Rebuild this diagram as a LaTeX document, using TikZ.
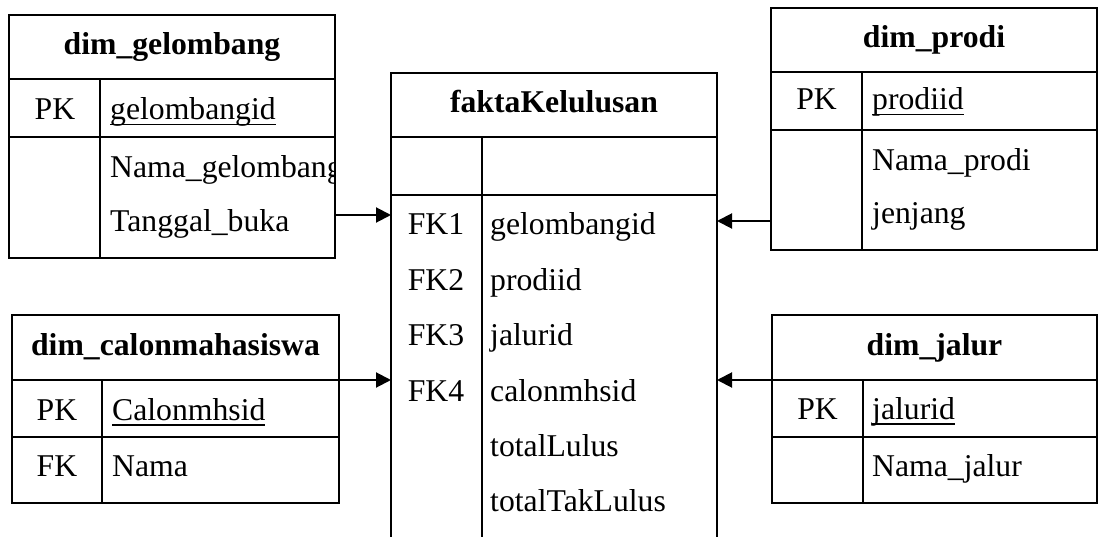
\documentclass[tikz,border=0pt]{standalone}
\usepackage{fontspec}
\setmainfont{Liberation Serif}
\usetikzlibrary{arrows.meta}
\newcommand{\keyul}[1]{\setbox0=\hbox{#1}\rlap{\rule[-5.5pt]{\wd0}{1.6pt}}\box0}

\begin{document}
\begin{tikzpicture}[x=1pt,y=-1pt,
    font=\fontsize{31.7}{38}\selectfont,
    cell/.style={draw,line width=2pt,inner sep=0pt,outer sep=0pt,anchor=north west},
    hdr/.style={cell,font=\fontsize{31.7}{38}\selectfont\bfseries,text height=22pt,text depth=6pt},
    fld/.style={anchor=base west,inner sep=0pt},
    key/.style={anchor=base,inner sep=0pt},
    fkarrow/.style={line width=2pt,-{Triangle[length=15pt,width=15pt]}}]
        \fill[white] (0,0) rectangle (1099,537);
        \clip (0,0) rectangle (1099,537);

        % dim_gelombang
        \node[hdr,minimum width=326pt,minimum height=64pt] (gelH) at (9,15) {dim\_gelombang};
        \node[cell,minimum width=91pt,minimum height=58pt] (gelK1) at (9,79) {};
        \node[cell,minimum width=235pt,minimum height=58pt] (gelF1) at (100,79) {};
        \node[cell,minimum width=91pt,minimum height=121pt] (gelK2) at (9,137) {};
        \node[cell,minimum width=235pt,minimum height=121pt] (gelF2) at (100,137) {};
        \node[key] (gelPK) at (55,120) {PK};
        \node[fld] (gelId) at (110,120) {\keyul{gelombangid}};
        \begin{scope}
        \clip (gelF2.north west) rectangle (gelF2.south east);
        \node[fld] (gelNama) at (110,177.5) {Nama\_gelombang};
        \end{scope}
        \node[fld] (gelTgl) at (110,231.5) {Tanggal\_buka};

        % faktaKelulusan
        \node[hdr,minimum width=326pt,minimum height=64pt] (fakH) at (391,73) {faktaKelulusan};
        \node[cell,minimum width=91pt,minimum height=58pt] (fakK0) at (391,137) {};
        \node[cell,minimum width=235pt,minimum height=58pt] (fakF0) at (482,137) {};
        \node[cell,minimum width=91pt,minimum height=400pt] (fakK) at (391,195) {};
        \node[cell,minimum width=235pt,minimum height=400pt] (fakF) at (482,195) {};
        \node[key] (fk1) at (436,235) {FK1};
        \node[key] (fk2) at (436,290.3) {FK2};
        \node[key] (fk3) at (436,345.6) {FK3};
        \node[key] (fk4) at (436,401) {FK4};
        \node[fld] (fakGel) at (490,235) {gelombangid};
        \node[fld] (fakPro) at (490,290.3) {prodiid};
        \node[fld] (fakJal) at (490,345.6) {jalurid};
        \node[fld] (fakCal) at (490,401) {calonmhsid};
        \node[fld] (fakLulus) at (490,456.5) {totalLulus};
        \node[fld] (fakTak) at (490,511.7) {totalTakLulus};

        % dim_prodi
        \node[hdr,minimum width=326pt,minimum height=64pt] (proH) at (771,8) {dim\_prodi};
        \node[cell,minimum width=91pt,minimum height=58pt] (proK1) at (771,72) {};
        \node[cell,minimum width=235pt,minimum height=58pt] (proF1) at (862,72) {};
        \node[cell,minimum width=91pt,minimum height=120pt] (proK2) at (771,130) {};
        \node[cell,minimum width=235pt,minimum height=120pt] (proF2) at (862,130) {};
        \node[key] (proPK) at (816.5,110) {PK};
        \node[fld] (proId) at (872,110) {\keyul{prodiid}};
        \node[fld] (proNama) at (872,171) {Nama\_prodi};
        \node[fld] (proJen) at (872,223.5) {jenjang};

        % dim_calonmahasiswa
        \node[hdr,minimum width=327pt,minimum height=65pt] (calH) at (12,315) {dim\_calonmahasiswa};
        \node[cell,minimum width=90pt,minimum height=57pt] (calK1) at (12,380) {};
        \node[cell,minimum width=237pt,minimum height=57pt] (calF1) at (102,380) {};
        \node[cell,minimum width=90pt,minimum height=66pt] (calK2) at (12,437) {};
        \node[cell,minimum width=237pt,minimum height=66pt] (calF2) at (102,437) {};
        \node[key] (calPK) at (57,420) {PK};
        \node[fld] (calId) at (112,420) {\keyul{Calonmhsid}};
        \node[key] (calFK) at (57,476.7) {FK};
        \node[fld] (calNama) at (112,476.7) {Nama};

        % dim_jalur
        \node[hdr,minimum width=325pt,minimum height=65pt] (jalH) at (772,315) {dim\_jalur};
        \node[cell,minimum width=91pt,minimum height=57pt] (jalK1) at (772,380) {};
        \node[cell,minimum width=234pt,minimum height=57pt] (jalF1) at (863,380) {};
        \node[cell,minimum width=91pt,minimum height=66pt] (jalK2) at (772,437) {};
        \node[cell,minimum width=234pt,minimum height=66pt] (jalF2) at (863,437) {};
        \node[key] (jalPK) at (817.5,419) {PK};
        \node[fld] (jalId) at (872,419) {\keyul{jalurid}};
        \node[fld] (jalNama) at (872,476.7) {Nama\_jalur};

        % relasi
        \coordinate (y1) at (0,215);
        \coordinate (y2) at (0,221);
        \draw[fkarrow] (gelF2.east |- y1) -- (fakK.west |- y1);
        \draw[fkarrow] (proK2.west |- y2) -- (fakF.east |- y2);
        \draw[fkarrow] (calH.south east) -- (calH.south east -| fakK.west);
        \draw[fkarrow] (jalH.south west) -- (jalH.south west -| fakF.east);
\end{tikzpicture}
\end{document}
